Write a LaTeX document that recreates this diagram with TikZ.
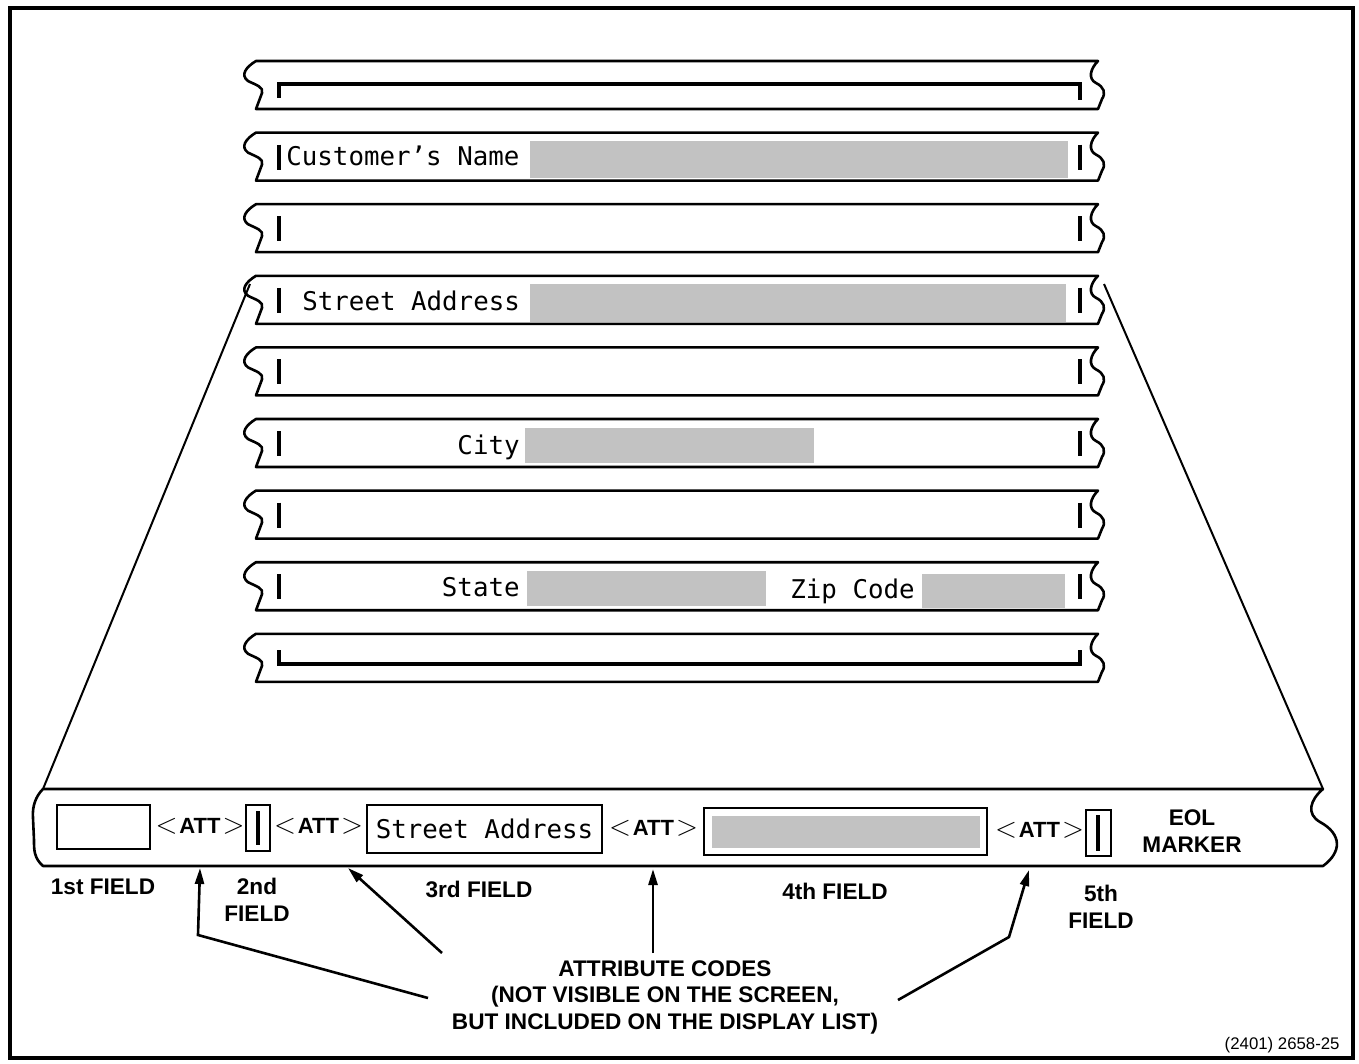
\documentclass[tikz,border=0pt]{standalone}
\usepackage{fontspec}
\setmainfont{Liberation Sans}
\newfontfamily\crtfont{DejaVu Sans Mono}
\usetikzlibrary{arrows.meta, positioning}

\newcommand{\attcode}{{\fontsize{14}{14}\selectfont$<$}\kern1pt ATT\kern1pt{\fontsize{14}{14}\selectfont$>$}}

\begin{document}
\begin{tikzpicture}[
    x=0.5pt, y=-0.5pt,
    tape/.style={draw, line width=1.3pt, fill=white, line join=round},
    bar/.style={line width=2.4pt},
    shade/.style={fill=black!24},
    crt/.style={font=\crtfont\fontsize{12.9}{14}\selectfont, inner sep=0pt},
    lbl/.style={font=\fontsize{11.3}{13.25}\selectfont\bfseries, align=center, inner sep=0pt},
    att/.style={font=\fontsize{11}{12}\selectfont\bfseries, inner sep=0pt},
    fieldbox/.style={draw, line width=1pt, inner sep=0pt},
    arr/.style={-{Triangle[length=8pt, width=4.5pt]}, line width=1.3pt}
]
\useasboundingbox (0,0) rectangle (1359,1064);
\draw[line width=2pt] (10,8) rectangle (1353,1058);

% screen rows
\foreach \i in {1,...,9} {
  \pgfmathsetmacro{\t}{61+71.6*(\i-1)}
  \draw[tape] (256,\t) -- (1098,\t)
     .. controls (1090,\t+8) and (1088,\t+18) .. (1096,\t+22)
     .. controls (1104,\t+26) and (1106,\t+32) .. (1102,\t+38)
     -- (1098,\t+48) -- (256,\t+48)
     -- (262,\t+32) .. controls (264,\t+26) and (256,\t+24) .. (248,\t+20)
     .. controls (240,\t+14) and (246,\t+6) .. (256,\t) -- cycle;
}
\foreach \i in {2,...,8} {
  \pgfmathsetmacro{\t}{61+71.6*(\i-1)}
  \draw[bar] (279,\t+12) -- (279,\t+37);
  \draw[bar] (1080,\t+12) -- (1080,\t+37);
}
\draw[bar] (279,98) -- (279,84) -- (1080,84) -- (1080,100);
\draw[bar] (279,650) -- (279,664) -- (1080,664) -- (1080,650);

% shaded input areas
\fill[shade] (530,141) rectangle (1068,178);
\fill[shade] (530,284) rectangle (1066,322);
\fill[shade] (525,428) rectangle (814,463);
\fill[shade] (527,571) rectangle (766,606);
\fill[shade] (922,574) rectangle (1065,608);

\node[crt, anchor=base west] (name) at (286,166) {Customer’s Name};
\node[crt, anchor=base west] (street) at (302,310) {Street Address};
\node[crt, anchor=base east] (city) at (520,454) {City};
\node[crt, anchor=base east] (state) at (520,596) {State};
\node[crt, anchor=base west] (zip) at (790,598) {Zip Code};

% display list line
\draw[tape] (43,789) -- (1323,789)
   .. controls (1310,800) and (1306,814) .. (1320,822)
   .. controls (1342,834) and (1342,852) .. (1323,866)
   -- (43,866) .. controls (34,858) and (34,850) .. (34,840)
   -- (33,818) .. controls (32,806) and (36,796) .. (43,789) -- cycle;

\coordinate (rowL) at (250,284);
\coordinate (rowR) at (1104,284);
\coordinate (listL) at (43,789);
\coordinate (listR) at (1323,789);
\draw[line width=1pt] (rowL) -- (listL);
\draw[line width=1pt] (rowR) -- (listR);

\node[fieldbox, minimum width=46.5pt, minimum height=22pt] (f1) at (103.5,827) {};
\node[att] (att1) at (200,826) {\attcode};
\node[fieldbox, minimum width=12pt, minimum height=23pt] (f2) at (258,828) {};
\draw[bar] (258,811) -- (258,845);
\node[att] (att2) at (318.5,826) {\attcode};
\node[fieldbox, crt, minimum width=117.5pt, minimum height=24pt] (f3) at (484.5,829) {Street Address};
\node[att] (att3) at (653.5,828) {\attcode};
\node[fieldbox, minimum width=141.5pt, minimum height=23.5pt] (f4) at (845.5,831.5) {};
\fill[shade] (712,816) rectangle (980,848);
\node[att] (att4) at (1039.5,830) {\attcode};
\node[fieldbox, minimum width=12.5pt, minimum height=23pt] (f5) at (1098.5,833) {};
\draw[bar] (1098,815) -- (1098,851);
\node[lbl] (eol) at (1192,831) {EOL\\MARKER};

% field labels
\node[lbl] (l1) at (103,887) {1st FIELD};
\node[lbl] (l2) at (257,900) {2nd\\FIELD};
\node[lbl] (l3) at (479,889) {3rd FIELD};
\node[lbl] (l4) at (835,891) {4th FIELD};
\node[lbl] (l5) at (1101,907) {5th\\FIELD};

\node[lbl] (codes) at (665,997) {ATTRIBUTE CODES\\(NOT VISIBLE ON THE SCREEN,\\BUT INCLUDED ON THE DISPLAY LIST)};

\coordinate (t1) at (200,868);
\coordinate (t2) at (348,868);
\coordinate (t3) at (653,869);
\coordinate (t4) at (1029,870);
\draw[arr] (428,998) -- (198,935) -- (t1);
\draw[arr] (442,953) -- (t2);
\draw[arr] (653,953) -- (t3);
\draw[arr] (898,1000) -- (1009,937) -- (t4);

\node[font=\fontsize{8.4}{10}\selectfont, anchor=base east, inner sep=0pt] (ref) at (1340,1049) {(2401) 2658-25};
\end{tikzpicture}
\end{document}
